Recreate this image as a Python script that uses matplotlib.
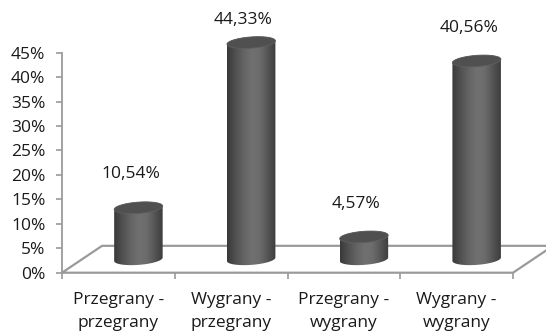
import numpy as np
import matplotlib
matplotlib.use("Agg")
import matplotlib.pyplot as plt
from matplotlib.path import Path
from matplotlib.patches import PathPatch, Polygon
from matplotlib.colors import LinearSegmentedColormap

# ===== データ =====
categories = ["Przegrany -\nprzegrany", "Wygrany -\nprzegrany",
              "Przegrany -\nwygrany", "Wygrany -\nwygrany"]
values = [10.54, 44.33, 4.57, 40.56]
yticks = [0, 5, 10, 15, 20, 25, 30, 35, 40, 45]

plt.rcParams["font.family"] = ["Open Sans", "DejaVu Sans"]
TXT = "#1a1a1a"
GRID = "#9a9a9a"
FS = 12.5

fig = plt.figure(figsize=(5.46, 3.34), dpi=100)
ax = fig.add_axes([0.1136, 0.1835, 0.826, 0.6587])
ax.set_xlim(0, len(categories))
ax.set_ylim(0, 45)

# 奥行き (床の傾き) -- データ単位
DX, DY = 0.355, 5.5
R, E = 0.215, 1.15          # 円柱の半径(横) / 楕円の縦半径
TILT = 0.35                 # 楕円の傾き
LABEL_UP, LABEL_MAX = 6.8, 51.7

# 床
floor = Polygon([(0, 0), (DX, DY), (len(categories) + DX, DY), (len(categories), 0)],
                closed=True, fill=False, edgecolor=GRID, lw=1.6, clip_on=False, zorder=1)
ax.add_patch(floor)

cmap = LinearSegmentedColormap.from_list(
    "cyl", ["#383838", "#505050", "#636363", "#707070", "#6c6c6c", "#555555", "#3c3c3c"])
grad = np.linspace(0, 1, 256).reshape(1, -1)


def ellipse_pts(xc, yc, t0, t1, n=60):
    t = np.linspace(t0, t1, n)
    x = xc + R * np.cos(t)
    y = yc + E * np.sin(t) + TILT * np.cos(t)
    return np.column_stack([x, y])


for i, v in enumerate(values):
    xc = i + 0.5 + DX / 2
    base = DY / 2
    top = base + v
    # 胴体: 下の前半分の弧 -> 右側 -> 上の後ろ半分の弧 -> 左側
    bot = ellipse_pts(xc, base, np.pi, 2 * np.pi)
    tp = ellipse_pts(xc, top, 0, np.pi)
    verts = np.vstack([bot, tp, bot[:1]])
    codes = [Path.MOVETO] + [Path.LINETO] * (len(verts) - 2) + [Path.CLOSEPOLY]
    body = PathPatch(Path(verts, codes), facecolor="none", edgecolor="none",
                     zorder=3, clip_on=False)
    ax.add_patch(body)
    im = ax.imshow(grad, cmap=cmap, aspect="auto", zorder=3,
                   extent=[xc - R, xc + R, base - E - 1, top + E + 1], interpolation="bilinear")
    im.set_clip_box(fig.bbox)
    im.set_clip_path(body)
    # 上面
    cap = ellipse_pts(xc, top, 0, 2 * np.pi, 80)
    ax.add_patch(Polygon(cap, closed=True, facecolor="#505050",
                         edgecolor="#5e5e5e", lw=0.6, zorder=4, clip_on=False))
    # ラベル (上端で止める)
    ly = min(top + LABEL_UP, LABEL_MAX)
    ax.text(xc - 0.07, ly, f"{v:.2f}".replace(".", ",") + "%",
            ha="center", va="center", fontsize=FS, color=TXT, clip_on=False)

ax.set_xlim(0, len(categories))
ax.set_ylim(0, 45)

for s in ["top", "right", "bottom"]:
    ax.spines[s].set_visible(False)
ax.spines["left"].set_color(GRID)
ax.spines["left"].set_linewidth(1.3)

ax.set_yticks(yticks)
ax.set_yticklabels([f"{t}%" for t in yticks])
ax.tick_params(axis="y", length=4, width=1.2, color=GRID, pad=8,
               labelsize=FS, labelcolor=TXT)

ax.set_xticks(np.arange(len(categories)) + 0.5)
ax.set_xticklabels(categories, linespacing=1.6)
ax.set_xticks(np.arange(len(categories) + 1), minor=True)
ax.tick_params(axis="x", which="major", length=0, pad=14, labelsize=FS, labelcolor=TXT)
ax.tick_params(axis="x", which="minor", length=4, width=1.2, color=GRID)

fig.savefig("out.png", dpi=100)
